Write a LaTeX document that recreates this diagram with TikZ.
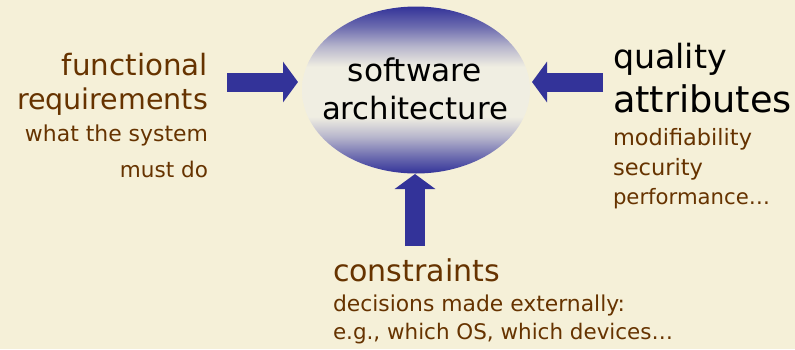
\documentclass[tikz,border=0pt]{standalone}
\usepackage{fontspec}
\setmainfont{DejaVu Sans}
\usetikzlibrary{arrows.meta,shapes.geometric}
\definecolor{bgcream}{RGB}{245,240,216}
\definecolor{archblue}{RGB}{51,51,153}
\definecolor{shadelight}{RGB}{240,238,226}
\definecolor{txtbrown}{RGB}{102,51,0}
% blue rim at top and bottom, light band in the middle
\pgfdeclareverticalshading{archshade}{100bp}{%
  color(0bp)=(archblue); color(25bp)=(archblue);
  color(30bp)=(archblue!70!shadelight);
  color(36bp)=(archblue!30!shadelight);
  color(42bp)=(shadelight); color(57bp)=(shadelight);
  color(63bp)=(archblue!30!shadelight);
  color(69bp)=(archblue!70!shadelight);
  color(75bp)=(archblue); color(100bp)=(archblue)}
\newcommand\fitline[2]{\resizebox{#1pt}{!}{#2}}
\tikzset{
  lbl/.style={inner sep=0pt, outer sep=0pt, font=\fontsize{20}{20}\selectfont},
  brown/.style={lbl, text=txtbrown},
  blk/.style={lbl, text=black},
  fat/.style={draw=archblue, line width=19pt,
    -{Triangle[width=40pt,length=15pt]}, color=archblue},
}
\begin{document}
\begin{tikzpicture}[x=1pt,y=-1pt]
  \fill[bgcream] (0,0) rectangle (795,349);
  \useasboundingbox (0,0) rectangle (795,349);

  % central ellipse with vertical shading
  \node[ellipse, minimum width=228pt, minimum height=167pt, inner sep=0pt,
        shading=archshade, draw=none] (arch) at (416,90) {};
  \node[blk, anchor=base] (sw) at (415,81) {\fitline{134}{software}};
  \node[blk, anchor=base] (sa) at (415,119) {\fitline{186}{architecture}};

  % functional requirements
  \node[brown, anchor=base east] (fr1) at (208,75) {\fitline{146}{functional}};
  \node[brown, anchor=base east] (fr2) at (208,109) {\fitline{191}{requirements}};
  \node[brown, anchor=base east] (fr3) at (208,141) {\fitline{183}{what the system}};
  \node[brown, anchor=base east] (fr4) at (208,177) {\fitline{88}{must do}};

  % quality attributes
  \node[blk, anchor=base west] (qa1) at (613,68) {\fitline{114}{quality}};
  \node[blk, anchor=base west] (qa2) at (613,112) {\fitline{179}{attributes}};
  \node[brown, anchor=base west] (qa3) at (613,145) {\fitline{139}{modifiability}};
  \node[brown, anchor=base west] (qa4) at (613,175) {\fitline{90}{security}};
  \node[brown, anchor=base west] (qa5) at (613,204) {\fitline{157}{performance\dots}};

  % constraints
  \node[brown, anchor=base west] (cs1) at (333,281) {\fitline{167}{constraints}};
  \node[brown, anchor=base west] (cs2) at (333,311) {\fitline{292}{decisions made externally:}};
  \node[brown, anchor=base west] (cs3) at (333,339) {\fitline{340}{e.g., which OS, which devices\dots}};

  % block arrows into the ellipse
  \coordinate (frs) at (227,82);
  \coordinate (fre) at (298,82);
  \coordinate (qas) at (603,82);
  \coordinate (qae) at (532,82);
  \coordinate (css) at (415,246);
  \coordinate (cse) at (415,174);
  \draw[fat] (frs) -- (fre);
  \draw[fat] (qas) -- (qae);
  \draw[fat, line width=20pt] (css) -- (cse);
\end{tikzpicture}
\end{document}
